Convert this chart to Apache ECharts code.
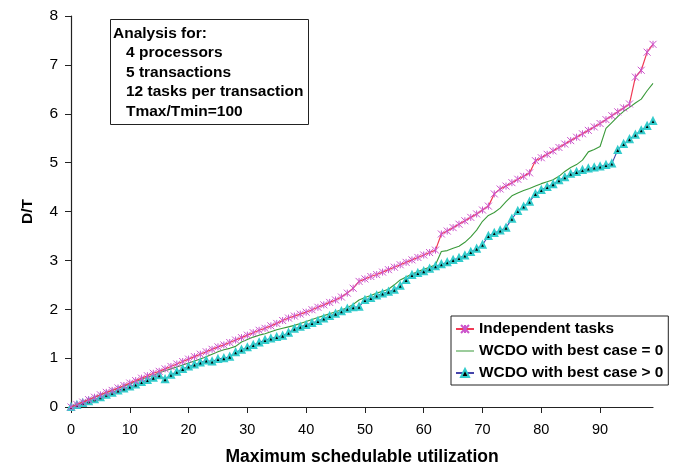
<!DOCTYPE html>
<html>
<head>
<meta charset="utf-8">
<script src="https://cdn.jsdelivr.net/npm/echarts@6/dist/echarts.min.js"></script>
<style>
  html, body { margin: 0; padding: 0; background: #fff; }
  #chart { width: 677px; height: 467px; }
</style>
</head>
<body>
<div id="chart"></div>
<script>
// utilization points (x axis categories)
var utilization = [
  0, 1, 2, 3, 4, 5, 6, 7, 8, 9, 10, 11, 12, 13, 14, 15, 16, 17, 18, 19,
  20, 21, 22, 23, 24, 25, 26, 27, 28, 29, 30, 31, 32, 33, 34, 35, 36, 37, 38, 39,
  40, 41, 42, 43, 44, 45, 46, 47, 48, 49, 50, 51, 52, 53, 54, 55, 56, 57, 58, 59,
  60, 61, 62, 63, 64, 65, 66, 67, 68, 69, 70, 71, 72, 73, 74, 75, 76, 77, 78, 79,
  80, 81, 82, 83, 84, 85, 86, 87, 88, 89, 90, 91, 92, 93, 94, 95, 96, 97, 98, 99
];

var independentTasks = [
  0, 0.05, 0.1, 0.15, 0.2, 0.25, 0.3, 0.34, 0.39, 0.44,
  0.49, 0.54, 0.59, 0.64, 0.69, 0.73, 0.78, 0.83, 0.88, 0.93,
  0.98, 1.03, 1.08, 1.13, 1.18, 1.23, 1.27, 1.32, 1.37, 1.42,
  1.47, 1.52, 1.57, 1.61, 1.66, 1.71, 1.77, 1.82, 1.86, 1.9,
  1.94, 1.99, 2.04, 2.09, 2.14, 2.19, 2.25, 2.33, 2.43, 2.57,
  2.62, 2.67, 2.71, 2.76, 2.81, 2.86, 2.91, 2.96, 3.01, 3.06,
  3.11, 3.16, 3.21, 3.54, 3.6, 3.67, 3.74, 3.81, 3.88, 3.95,
  4.03, 4.11, 4.36, 4.46, 4.52, 4.59, 4.66, 4.72, 4.79, 5.04,
  5.1, 5.17, 5.24, 5.31, 5.38, 5.45, 5.52, 5.59, 5.66, 5.73,
  5.8, 5.88, 5.96, 6.04, 6.12, 6.2, 6.75, 6.89, 7.26, 7.42
];

var wcdoBestZero = [
  0, 0.05, 0.1, 0.15, 0.2, 0.25, 0.29, 0.34, 0.38, 0.43,
  0.47, 0.52, 0.56, 0.61, 0.65, 0.7, 0.74, 0.78, 0.82, 0.86,
  0.9, 0.94, 0.98, 1.03, 1.08, 1.13, 1.17, 1.2, 1.24, 1.33,
  1.38, 1.43, 1.47, 1.5, 1.54, 1.58, 1.61, 1.64, 1.67, 1.71,
  1.75, 1.79, 1.83, 1.87, 1.91, 1.95, 1.99, 2.03, 2.1, 2.19,
  2.24, 2.28, 2.33, 2.37, 2.41, 2.5, 2.6, 2.66, 2.72, 2.77,
  2.82, 2.86, 2.91, 3.18, 3.2, 3.25, 3.29, 3.37, 3.48, 3.62,
  3.8, 3.92, 3.98, 4.07, 4.2, 4.32, 4.38, 4.43, 4.47, 4.52,
  4.57, 4.61, 4.65, 4.72, 4.82, 4.9, 4.96, 5.05, 5.22, 5.27,
  5.33, 5.7, 5.82, 5.94, 6.05, 6.13, 6.22, 6.3, 6.47, 6.62
];

var wcdoBestPositive = [
  0, 0.04, 0.08, 0.12, 0.16, 0.2, 0.25, 0.29, 0.34, 0.38,
  0.42, 0.46, 0.51, 0.55, 0.6, 0.65, 0.57, 0.66, 0.72, 0.78,
  0.83, 0.87, 0.91, 0.95, 0.93, 0.98, 1.0, 1.03, 1.12, 1.17,
  1.22, 1.27, 1.32, 1.37, 1.4, 1.43, 1.46, 1.52, 1.6, 1.64,
  1.68, 1.72, 1.76, 1.81, 1.86, 1.91, 1.96, 2.01, 2.04, 2.05,
  2.19, 2.23, 2.28, 2.32, 2.36, 2.4, 2.48, 2.6, 2.7, 2.74,
  2.78, 2.83, 2.88, 2.92, 2.96, 3.01, 3.05, 3.1, 3.17, 3.24,
  3.32, 3.5, 3.56, 3.61, 3.67, 3.85, 4.01, 4.1, 4.2, 4.36,
  4.44, 4.5, 4.56, 4.64, 4.7, 4.77, 4.81, 4.85, 4.88, 4.9,
  4.92, 4.95, 4.98, 5.26, 5.38, 5.48, 5.57, 5.66, 5.75, 5.85
];

var noteLines = ['Analysis for:', '4 processors', '5 transactions', '12 tasks per transaction', 'Tmax/Tmin=100'];

var FONT = '"Liberation Sans", Arial, sans-serif';
var chart = echarts.init(document.getElementById('chart'));

var noteText = noteLines.map(function (t, i) {
  return {
    type: 'text',
    x: i === 0 ? 113 : 126,
    y: 33.5 + i * 19.5,
    style: { text: t, font: 'bold 15.5px ' + FONT, fill: '#000', verticalAlign: 'middle' }
  };
});

var tenth = function (i) { return i % 10 === 0; };
// a flat line icon for the green series in the legend
var lineIcon = 'path://M0,0L0,0Z M18,10L18,10Z M0,4.4L18,4.4L18,5.6L0,5.6Z';

chart.setOption({
  animation: false,
  backgroundColor: '#fff',
  grid: { left: 71, right: 24, top: 16, bottom: 60, containLabel: false, outerBoundsMode: 'none' },
  xAxis: {
    type: 'category',
    data: utilization,
    boundaryGap: false,
    name: 'Maximum schedulable utilization',
    nameLocation: 'middle',
    nameGap: 41,
    nameTextStyle: { fontFamily: FONT, fontWeight: 'bold', fontSize: 17.5, color: '#000' },
    axisLine: { lineStyle: { color: '#222', width: 1.2 } },
    axisTick: { interval: tenth, length: 6, lineStyle: { color: '#222' } },
    axisLabel: { interval: tenth, fontFamily: FONT, fontSize: 14.5, color: '#000', margin: 15 },
    splitLine: { show: false }
  },
  yAxis: {
    type: 'value',
    min: 0,
    max: 8,
    interval: 1,
    name: 'D/T',
    nameLocation: 'middle',
    nameGap: 35,
    nameRotate: 90,
    nameTextStyle: { fontFamily: FONT, fontWeight: 'bold', fontSize: 15.5, color: '#000' },
    axisLine: { show: true, lineStyle: { color: '#222', width: 1.2 } },
    axisTick: { show: true, length: 6, lineStyle: { color: '#222' } },
    axisLabel: { fontFamily: FONT, fontSize: 15.5, color: '#000', margin: 13 },
    splitLine: { show: false }
  },
  legend: {
    orient: 'vertical',
    left: 451,
    top: 316,
    padding: [4, 5, 3, 4],
    itemGap: 4,
    itemWidth: 18,
    itemHeight: 10,
    borderColor: '#222',
    borderWidth: 1,
    backgroundColor: '#fff',
    textStyle: { fontFamily: FONT, fontWeight: 'bold', fontSize: 15.4, color: '#000', lineHeight: 18 },
    data: [
      'Independent tasks',
      { name: 'WCDO with best case = 0', icon: lineIcon },
      'WCDO with best case > 0'
    ]
  },
  graphic: [
    {
      type: 'rect',
      left: 110,
      top: 19,
      shape: { width: 198, height: 105 },
      style: { fill: '#fff', stroke: '#222', lineWidth: 1 }
    }
  ].concat(noteText),
  series: [
    {
      name: 'WCDO with best case = 0',
      type: 'line',
      data: wcdoBestZero,
      symbol: 'none',
      lineStyle: { color: '#3a9a3a', width: 1.1 },
      itemStyle: { color: '#3a9a3a' },
      z: 2
    },
    {
      name: 'WCDO with best case > 0',
      type: 'line',
      data: wcdoBestPositive,
      symbol: 'triangle',
      symbolSize: 6,
      showAllSymbol: true,
      lineStyle: { color: '#4444aa', width: 1.1 },
      itemStyle: { color: '#000', borderColor: '#33cccc', borderWidth: 2 },
      z: 3
    },
    {
      name: 'Independent tasks',
      type: 'line',
      data: independentTasks,
      symbol: 'path://M0,0L10,10M10,0L0,10M5,0L5,10',
      symbolSize: 7,
      showAllSymbol: true,
      lineStyle: { color: '#f03a55', width: 1.2 },
      itemStyle: { color: '#cc55cc', borderColor: '#cc55cc', borderWidth: 1 },
      z: 4
    }
  ]
});
</script>
</body>
</html>
